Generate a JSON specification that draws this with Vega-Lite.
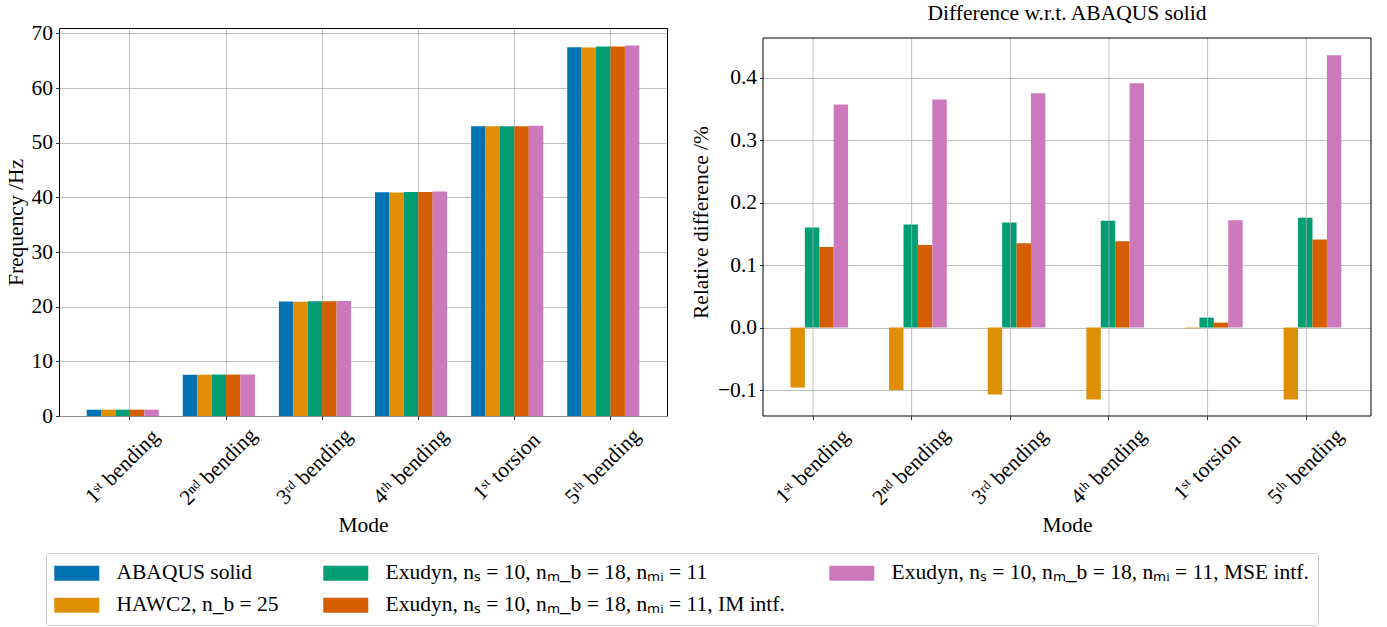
{
  "$schema": "https://vega.github.io/schema/vega-lite/v6.json",
  "background": "white",
  "padding": {"left": 4, "top": 2, "right": 10, "bottom": 0},
  "spacing": 22,
  "config": {
    "font": "Liberation Serif",
    "view": {"stroke": "black", "strokeWidth": 1},
    "axis": {
      "labelFont": "Liberation Serif", "titleFont": "Liberation Serif",
      "labelFontSize": 21.5, "titleFontSize": 21.5, "titleFontWeight": "normal",
      "labelColor": "black", "titleColor": "black",
      "tickColor": "black", "tickSize": 3.5, "tickWidth": 0.8,
      "domain": false, "grid": true, "gridColor": "#b0b0b0", "gridWidth": 0.8,
      "zindex": 1
    },
    "title": {"font": "Liberation Serif", "fontSize": 21.5, "fontWeight": "normal", "color": "black"},
    "legend": {
      "orient": "none", "legendX": -13, "legendY": 525, "direction": "vertical", "columns": 3, "title": null,
      "labelFont": "Liberation Serif", "labelFontSize": 21.5, "labelColor": "black", "labelLimit": 800,
      "symbolType": "M-1.53,-1H4.47V1H-1.53Z", "symbolSize": 225, "symbolStrokeWidth": 0,
      "labelOffset": 40, "rowPadding": 9.5, "columnPadding": 44,
      "padding": 9, "strokeColor": "#cccccc", "cornerRadius": 3, "fillColor": "white"
    }
  },
  "data": {"values": [
    {"mode": "1ˢᵗ bending", "series": "ABAQUS solid", "freq": 1.16, "diff": 0},
    {"mode": "2ⁿᵈ bending", "series": "ABAQUS solid", "freq": 7.57, "diff": 0},
    {"mode": "3ʳᵈ bending", "series": "ABAQUS solid", "freq": 20.95, "diff": 0},
    {"mode": "4ᵗʰ bending", "series": "ABAQUS solid", "freq": 40.93, "diff": 0},
    {"mode": "1ˢᵗ torsion", "series": "ABAQUS solid", "freq": 53.02, "diff": 0},
    {"mode": "5ᵗʰ bending", "series": "ABAQUS solid", "freq": 67.5, "diff": 0},
    {"mode": "1ˢᵗ bending", "series": "HAWC2, n_b = 25", "freq": 1.159, "diff": -0.096},
    {"mode": "2ⁿᵈ bending", "series": "HAWC2, n_b = 25", "freq": 7.562, "diff": -0.1},
    {"mode": "3ʳᵈ bending", "series": "HAWC2, n_b = 25", "freq": 20.928, "diff": -0.107},
    {"mode": "4ᵗʰ bending", "series": "HAWC2, n_b = 25", "freq": 40.883, "diff": -0.115},
    {"mode": "1ˢᵗ torsion", "series": "HAWC2, n_b = 25", "freq": 53.019, "diff": -0.001},
    {"mode": "5ᵗʰ bending", "series": "HAWC2, n_b = 25", "freq": 67.422, "diff": -0.115},
    {"mode": "1ˢᵗ bending", "series": "Exudyn, nₛ = 10, nₘ_b = 18, nₘᵢ = 11", "freq": 1.162, "diff": 0.16},
    {"mode": "2ⁿᵈ bending", "series": "Exudyn, nₛ = 10, nₘ_b = 18, nₘᵢ = 11", "freq": 7.582, "diff": 0.165},
    {"mode": "3ʳᵈ bending", "series": "Exudyn, nₛ = 10, nₘ_b = 18, nₘᵢ = 11", "freq": 20.985, "diff": 0.168},
    {"mode": "4ᵗʰ bending", "series": "Exudyn, nₛ = 10, nₘ_b = 18, nₘᵢ = 11", "freq": 41.0, "diff": 0.171},
    {"mode": "1ˢᵗ torsion", "series": "Exudyn, nₛ = 10, nₘ_b = 18, nₘᵢ = 11", "freq": 53.028, "diff": 0.016},
    {"mode": "5ᵗʰ bending", "series": "Exudyn, nₛ = 10, nₘ_b = 18, nₘᵢ = 11", "freq": 67.619, "diff": 0.176},
    {"mode": "1ˢᵗ bending", "series": "Exudyn, nₛ = 10, nₘ_b = 18, nₘᵢ = 11, IM intf.", "freq": 1.1615, "diff": 0.129},
    {"mode": "2ⁿᵈ bending", "series": "Exudyn, nₛ = 10, nₘ_b = 18, nₘᵢ = 11, IM intf.", "freq": 7.58, "diff": 0.132},
    {"mode": "3ʳᵈ bending", "series": "Exudyn, nₛ = 10, nₘ_b = 18, nₘᵢ = 11, IM intf.", "freq": 20.978, "diff": 0.135},
    {"mode": "4ᵗʰ bending", "series": "Exudyn, nₛ = 10, nₘ_b = 18, nₘᵢ = 11, IM intf.", "freq": 40.986, "diff": 0.138},
    {"mode": "1ˢᵗ torsion", "series": "Exudyn, nₛ = 10, nₘ_b = 18, nₘᵢ = 11, IM intf.", "freq": 53.024, "diff": 0.008},
    {"mode": "5ᵗʰ bending", "series": "Exudyn, nₛ = 10, nₘ_b = 18, nₘᵢ = 11, IM intf.", "freq": 67.595, "diff": 0.141},
    {"mode": "1ˢᵗ bending", "series": "Exudyn, nₛ = 10, nₘ_b = 18, nₘᵢ = 11, MSE intf.", "freq": 1.164, "diff": 0.357},
    {"mode": "2ⁿᵈ bending", "series": "Exudyn, nₛ = 10, nₘ_b = 18, nₘᵢ = 11, MSE intf.", "freq": 7.598, "diff": 0.365},
    {"mode": "3ʳᵈ bending", "series": "Exudyn, nₛ = 10, nₘ_b = 18, nₘᵢ = 11, MSE intf.", "freq": 21.029, "diff": 0.375},
    {"mode": "4ᵗʰ bending", "series": "Exudyn, nₛ = 10, nₘ_b = 18, nₘᵢ = 11, MSE intf.", "freq": 41.09, "diff": 0.391},
    {"mode": "1ˢᵗ torsion", "series": "Exudyn, nₛ = 10, nₘ_b = 18, nₘᵢ = 11, MSE intf.", "freq": 53.111, "diff": 0.172},
    {"mode": "5ᵗʰ bending", "series": "Exudyn, nₛ = 10, nₘ_b = 18, nₘᵢ = 11, MSE intf.", "freq": 67.794, "diff": 0.436}
  ]},
  "hconcat": [
    {
      "width": 608, "height": 388,
      "mark": {"type": "bar"},
      "encoding": {
        "x": {"field": "mode", "type": "nominal", "sort": null,
              "scale": {"paddingInner": 0.25, "paddingOuter": 0.288},
              "axis": {"title": "Mode", "labelAngle": -45, "labelAlign": "center", "labelBaseline": "middle",
                       "labelPadding": 47, "bandPosition": 0.6, "titlePadding": 6}},
        "xOffset": {"field": "series", "type": "nominal",
                    "scale": {"domain": ["ABAQUS solid", "HAWC2, n_b = 25", "Exudyn, nₛ = 10, nₘ_b = 18, nₘᵢ = 11", "Exudyn, nₛ = 10, nₘ_b = 18, nₘᵢ = 11, IM intf.", "Exudyn, nₛ = 10, nₘ_b = 18, nₘᵢ = 11, MSE intf."],
                              "paddingInner": 0, "paddingOuter": 0}},
        "y": {"field": "freq", "type": "quantitative",
              "scale": {"domain": [0, 71.0], "nice": false},
              "axis": {"title": "Frequency /Hz", "values": [0, 10, 20, 30, 40, 50, 60, 70], "labelPadding": 3, "titlePadding": 4}},
        "color": {"field": "series", "type": "nominal",
                  "scale": {"domain": ["ABAQUS solid", "HAWC2, n_b = 25", "Exudyn, nₛ = 10, nₘ_b = 18, nₘᵢ = 11", "Exudyn, nₛ = 10, nₘ_b = 18, nₘᵢ = 11, IM intf.", "Exudyn, nₛ = 10, nₘ_b = 18, nₘᵢ = 11, MSE intf."],
                            "range": ["#0173b2", "#de8f05", "#029e73", "#d55e00", "#cc78bc"]}}
      }
    },
    {
      "width": 608, "height": 388,
      "title": {"text": "Difference w.r.t. ABAQUS solid", "offset": 4},
      "view": {"stroke": null},
      "layer": [
        {
          "mark": {"type": "bar"},
          "encoding": {
            "x": {"field": "mode", "type": "nominal", "sort": null,
                  "scale": {"paddingInner": 0.25, "paddingOuter": 0.207, "align": 0.319},
                  "axis": {"title": "Mode", "labelAngle": -45, "labelAlign": "center", "labelBaseline": "middle",
                           "labelPadding": 47, "titlePadding": 6, "grid": false}},
            "xOffset": {"field": "series", "type": "nominal",
                        "scale": {"domain": ["ABAQUS solid", "HAWC2, n_b = 25", "Exudyn, nₛ = 10, nₘ_b = 18, nₘᵢ = 11", "Exudyn, nₛ = 10, nₘ_b = 18, nₘᵢ = 11, IM intf.", "Exudyn, nₛ = 10, nₘ_b = 18, nₘᵢ = 11, MSE intf."],
                                  "paddingInner": 0, "paddingOuter": 0}},
            "y": {"field": "diff", "type": "quantitative",
                  "scale": {"domain": [-0.1415, 0.4795], "nice": false},
                  "axis": {"title": "Relative difference /%", "values": [-0.1, 0, 0.1, 0.2, 0.3, 0.4], "format": ".1f", "labelPadding": 3, "titlePadding": 5}},
            "color": {"field": "series", "type": "nominal",
                      "scale": {"domain": ["ABAQUS solid", "HAWC2, n_b = 25", "Exudyn, nₛ = 10, nₘ_b = 18, nₘᵢ = 11", "Exudyn, nₛ = 10, nₘ_b = 18, nₘᵢ = 11, IM intf.", "Exudyn, nₛ = 10, nₘ_b = 18, nₘᵢ = 11, MSE intf."],
                                "range": ["#0173b2", "#de8f05", "#029e73", "#d55e00", "#cc78bc"]}}
          }
        },
        {
          "transform": [{"filter": "datum.series === 'ABAQUS solid'"}],
          "mark": {"type": "rule", "color": "#b0b0b0", "strokeWidth": 0.8},
          "encoding": {
            "x": {"field": "mode", "type": "nominal", "sort": null},
            "y": {"datum": -0.1415},
            "y2": {"datum": 0.4635}
          }
        },
        {
          "transform": [{"filter": "datum.series === 'ABAQUS solid' && datum.mode === '1ˢᵗ bending'"}],
          "mark": {"type": "rect", "fill": "transparent", "stroke": "black", "strokeWidth": 1},
          "encoding": {
            "y": {"datum": 0.4635},
            "y2": {"datum": -0.1415}
          }
        }
      ]
    }
  ]
}
